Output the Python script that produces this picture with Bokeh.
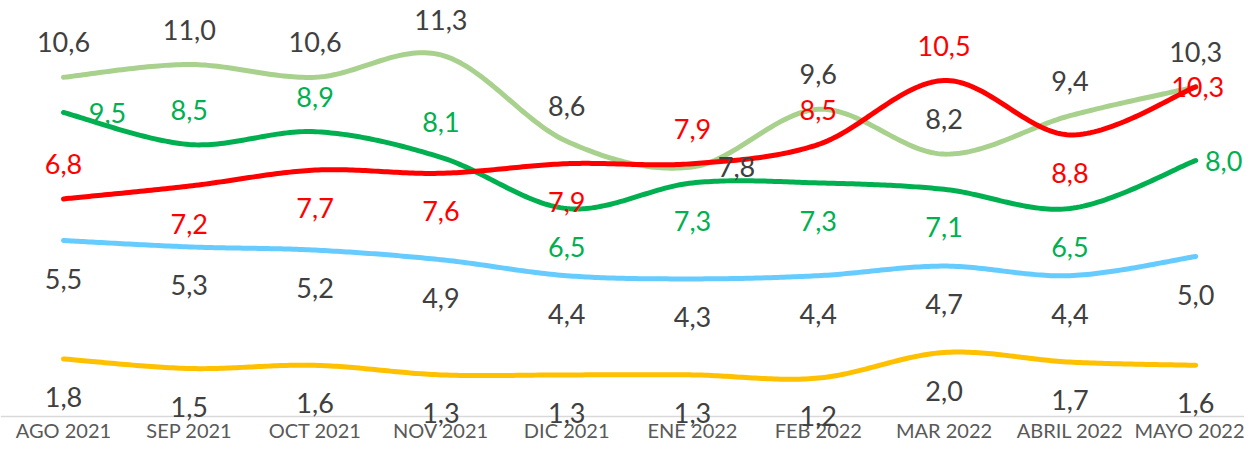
import numpy as np
from bokeh.plotting import figure
from bokeh.models import ColumnDataSource, LabelSet, Range1d, FixedTicker
from bokeh.core.properties import value
from bokeh.embed import file_html
from bokeh.resources import INLINE

# ---------------- data ----------------
categories = ["AGO 2021", "SEP 2021", "OCT 2021", "NOV 2021", "DIC 2021",
              "ENE 2022", "FEB 2022", "MAR 2022", "ABRIL 2022", "MAYO 2022"]
light_green = [10.6, 11.0, 10.6, 11.3, 8.6, 7.8, 9.6, 8.2, 9.4, 10.3]
dark_green = [9.5, 8.5, 8.9, 8.1, 6.5, 7.3, 7.3, 7.1, 6.5, 8.0]
red = [6.8, 7.2, 7.7, 7.6, 7.9, 7.9, 8.5, 10.5, 8.8, 10.3]
blue = [5.5, 5.3, 5.2, 4.9, 4.4, 4.3, 4.4, 4.7, 4.4, 5.0]
yellow = [1.8, 1.5, 1.6, 1.3, 1.3, 1.3, 1.2, 2.0, 1.7, 1.6]

# label placement per point (style)
pos_light_green = ["above"] * 5 + ["right"] + ["above"] * 4
pos_dark_green = ["right", "above", "above", "above", "below",
                  "below", "below", "below", "below", "right_end"]
pos_red = ["above", "below", "below", "below", "below",
           "above", "above", "above", "below", "center"]
pos_blue = ["below"] * 10
pos_yellow = ["below"] * 10

OFFSETS = {"above": (0, 35), "below": (0, -38), "right": (44, 0),
           "right_end": (28, 0), "center": (2, 0)}


def smooth(ys, n=40):
    """Catmull-Rom style bezier smoothing (like a spreadsheet smoothed line)."""
    pts = np.column_stack([np.arange(len(ys), dtype=float), np.asarray(ys, float)])
    ext = np.vstack([pts[0], pts, pts[-1]])
    xs_out, ys_out = [], []
    for i in range(len(pts) - 1):
        p0, p1, p2, p3 = ext[i], ext[i + 1], ext[i + 2], ext[i + 3]
        c1 = p1 + (p2 - p0) / 6.0
        c2 = p2 - (p3 - p1) / 6.0
        t = np.linspace(0, 1, n, endpoint=(i == len(pts) - 2))[:, None]
        b = ((1 - t) ** 3) * p1 + 3 * ((1 - t) ** 2) * t * c1 + 3 * (1 - t) * t ** 2 * c2 + t ** 3 * p2
        xs_out.extend(b[:, 0])
        ys_out.extend(b[:, 1])
    return xs_out, ys_out


p = figure(frame_width=1244, frame_height=443,
           x_range=Range1d(-0.5008, 9.388), y_range=Range1d(-0.84375, 13.0),
           output_backend="svg", toolbar_location=None, y_axis_location=None,
           min_border=0, min_border_left=0, min_border_right=0,
           min_border_top=0, min_border_bottom=0)
p.grid.visible = False
p.outline_line_color = None
p.background_fill_color = "white"
p.border_fill_color = "white"

ax = p.xaxis[0]
ax.fixed_location = 0
ax.ticker = FixedTicker(ticks=list(range(len(categories))))
ax.major_label_overrides = {i: c for i, c in enumerate(categories)}
ax.major_tick_line_color = None
ax.minor_tick_line_color = None
ax.axis_line_color = "#D9D9D9"
ax.axis_line_width = 1.5
ax.major_label_text_font = "Lato"
ax.major_label_text_font_size = "20px"
ax.major_label_text_color = "#595959"
ax.major_label_standoff = -5

series = [
    (light_green, "#A9D18E", "#404040", pos_light_green),
    (dark_green, "#00B050", "#00B050", pos_dark_green),
    (blue, "#66CCFF", "#404040", pos_blue),
    (yellow, "#FFC000", "#404040", pos_yellow),
    (red, "#FF0000", "#FF0000", pos_red),
]

for vals, lc, _, _ in series:
    sx, sy = smooth(vals)
    p.line(sx, sy, line_width=5, line_color=lc, line_cap="round", line_join="round")

for vals, _, tc, pos in series:
    src = ColumnDataSource(dict(
        x=list(range(len(vals))),
        y=vals,
        text=[f"{v:.1f}".replace(".", ",") for v in vals],
        dx=[OFFSETS[q][0] for q in pos],
        dy=[OFFSETS[q][1] for q in pos],
    ))
    p.add_layout(LabelSet(x="x", y="y", text="text", x_offset="dx", y_offset="dy",
                          source=src, text_align="center", text_baseline="middle",
                          text_color=tc, text_font=value("Lato"),
                          text_font_size="27px"))

open("out.html", "w").write(file_html(p, INLINE))
